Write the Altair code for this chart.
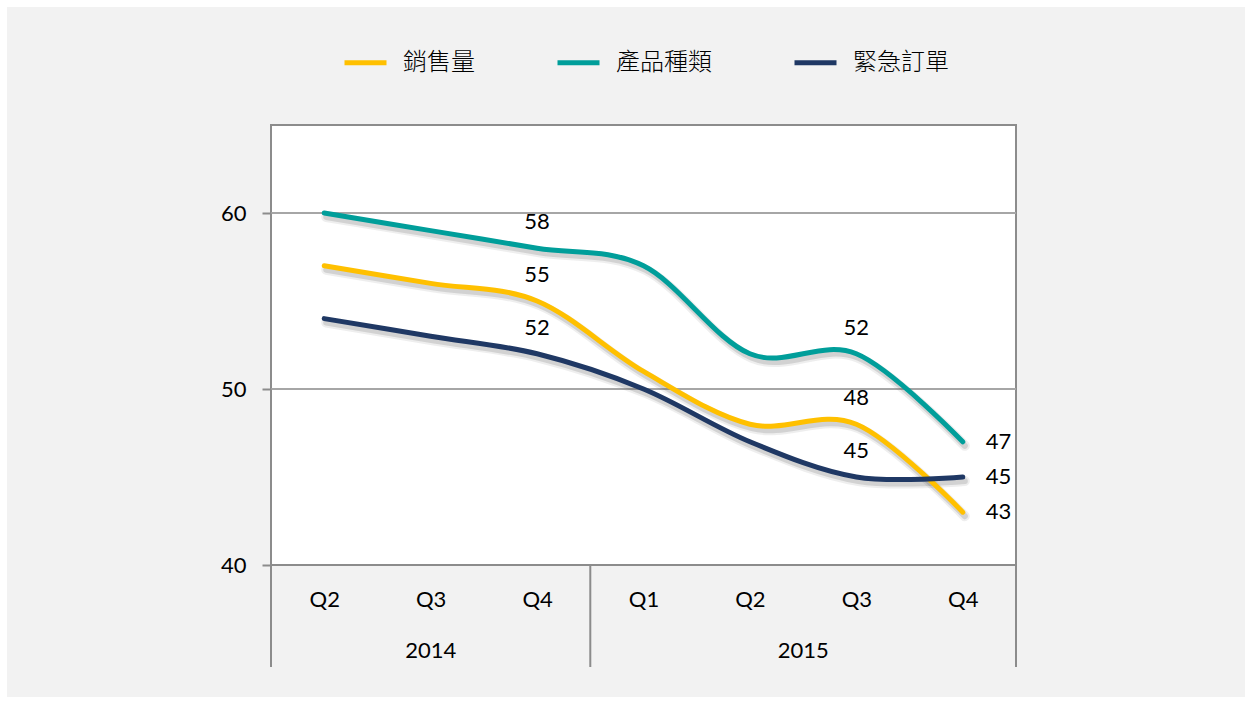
import altair as alt
import pandas as pd

# ---- data ----
quarters = ["Q2", "Q3", "Q4", "Q1", "Q2", "Q3", "Q4"]
years = ["2014", "2014", "2014", "2015", "2015", "2015", "2015"]
series_names = ["銷售量", "產品種類", "緊急訂單"]
sales = [57, 56, 55, 51, 48, 48, 43]
variety = [60, 59, 58, 57, 52, 52, 47]
urgent = [54, 53, 52, 50, 47, 45, 45]
colors = ["#FFC000", "#009E9A", "#1F3864"]
label_above_idx = [2, 5]
label_right_idx = [6]
y_ticks = [40, 50, 60]
grid_values = [50, 60]

rows = []
for name, vals in zip(series_names, [sales, variety, urgent]):
    for i, v in enumerate(vals):
        rows.append({"idx": i, "series": name, "value": v,
                     "quarter": quarters[i], "year": years[i]})
df = pd.DataFrame(rows)

yr = pd.DataFrame({"idx": list(range(len(years))), "year": years})
year_df = yr.groupby("year")["idx"].agg(["min", "max"]).reset_index()
year_df["mid"] = (year_df["min"] + year_df["max"]) / 2
sep_vals = sorted(set([m - 0.5 for m in year_df["min"]] + [m + 0.5 for m in year_df["max"]]))
sep_df = pd.DataFrame({"pos": sep_vals})
grid_df = pd.DataFrame({"v": grid_values})

W, H = 745, 440
GRAY = "#8c8c8c"
NUM_FONT = "Lato"
CJK_FONT = "Noto Sans CJK TC"

xscale = alt.Scale(domain=[-0.5, len(quarters) - 0.5], nice=False, zero=False)
yscale = alt.Scale(domain=[40, 65], nice=False, zero=False)

label_expr = "[" + ",".join("'%s'" % q for q in quarters) + "][datum.value]"

x_axis = alt.Axis(values=list(range(len(quarters))), labelExpr=label_expr,
                  grid=False, ticks=False, tickSize=0, domain=False,
                  labelPadding=24, labelFontSize=22, labelFont=NUM_FONT,
                  labelColor="#000000", title=None, zindex=1)
y_axis = alt.Axis(values=y_ticks, grid=False, domain=False, tickSize=9,
                  tickColor=GRAY, tickWidth=2, labelPadding=16,
                  labelFontSize=22, labelFont=NUM_FONT, labelColor="#000000",
                  title=None, zindex=1)


def X(field):
    return alt.X(field, scale=xscale, axis=x_axis)


def Y(field):
    return alt.Y(field, scale=yscale, axis=y_axis)


# background panels
bg = alt.Chart(alt.Data(values=[{}])).mark_rect(fill="#f2f2f2").encode(
    x=alt.value(-264), x2=alt.value(974), y=alt.value(-118), y2=alt.value(572))
plotbg = alt.Chart(alt.Data(values=[{}])).mark_rect(
    fill="white", stroke=GRAY, strokeWidth=2).encode(
    x=alt.value(0), x2=alt.value(W), y=alt.value(0), y2=alt.value(H))

grid = alt.Chart(grid_df).mark_rule(color="#a6a6a6", strokeWidth=2).encode(
    y=Y("v:Q"))

seps = alt.Chart(sep_df).mark_rule(color=GRAY, strokeWidth=2).encode(
    x=X("pos:Q"), y=alt.value(H), y2=alt.value(H + 102))

base = alt.Chart(df)

shadow1 = base.mark_line(interpolate="cardinal", tension=0, strokeWidth=10,
                         opacity=0.10, strokeCap="round", xOffset=2, yOffset=4).encode(
    x=X("idx:Q"), y=Y("value:Q"),
    detail="series:N", color=alt.value("#555555"))
shadow2 = base.mark_line(interpolate="cardinal", tension=0, strokeWidth=6,
                         opacity=0.18, strokeCap="round", xOffset=2, yOffset=4).encode(
    x=X("idx:Q"), y=Y("value:Q"),
    detail="series:N", color=alt.value("#555555"))

lines = base.mark_line(interpolate="cardinal", tension=0, strokeWidth=5,
                       strokeCap="round").encode(
    x=X("idx:Q"), y=Y("value:Q"),
    color=alt.Color("series:N",
                    scale=alt.Scale(domain=series_names, range=colors),
                    legend=alt.Legend(orient="none", legendX=71, legendY=-86,
                                      direction="horizontal", symbolType="stroke",
                                      symbolSize=1764, symbolStrokeWidth=5,
                                      labelFontSize=24, labelFont=CJK_FONT,
                                      labelFontWeight=300,
                                      labelColor="#000000", columnPadding=72,
                                      labelOffset=14, title=None, padding=0)),
)

lab_above = base.transform_filter(
    alt.FieldOneOfPredicate(field="idx", oneOf=label_above_idx)
).mark_text(fontSize=22, font=NUM_FONT, color="#000000", dy=-26,
            align="center", baseline="middle").encode(
    x=X("idx:Q"), y=Y("value:Q"), text="value:Q")

lab_right = base.transform_filter(
    alt.FieldOneOfPredicate(field="idx", oneOf=label_right_idx)
).mark_text(fontSize=22, font=NUM_FONT, color="#000000", dx=23,
            align="left", baseline="middle").encode(
    x=X("idx:Q"), y=Y("value:Q"), text="value:Q")

year_text = alt.Chart(year_df).mark_text(fontSize=22, font=NUM_FONT, color="#000000",
                                         align="center", baseline="middle").encode(
    x=X("mid:Q"), y=alt.value(H + 86), text="year:N")

chart = alt.layer(bg, plotbg, grid, seps, shadow1, shadow2, lines,
                  lab_above, lab_right, year_text).properties(
    width=W, height=H,
    autosize=alt.AutoSizeParams(type="none"),
    padding={"left": 271, "top": 125, "right": 236, "bottom": 138},
    background="white",
).configure_view(stroke=None)

chart.save("out.html", embed_options={"renderer": "svg", "actions": False})
